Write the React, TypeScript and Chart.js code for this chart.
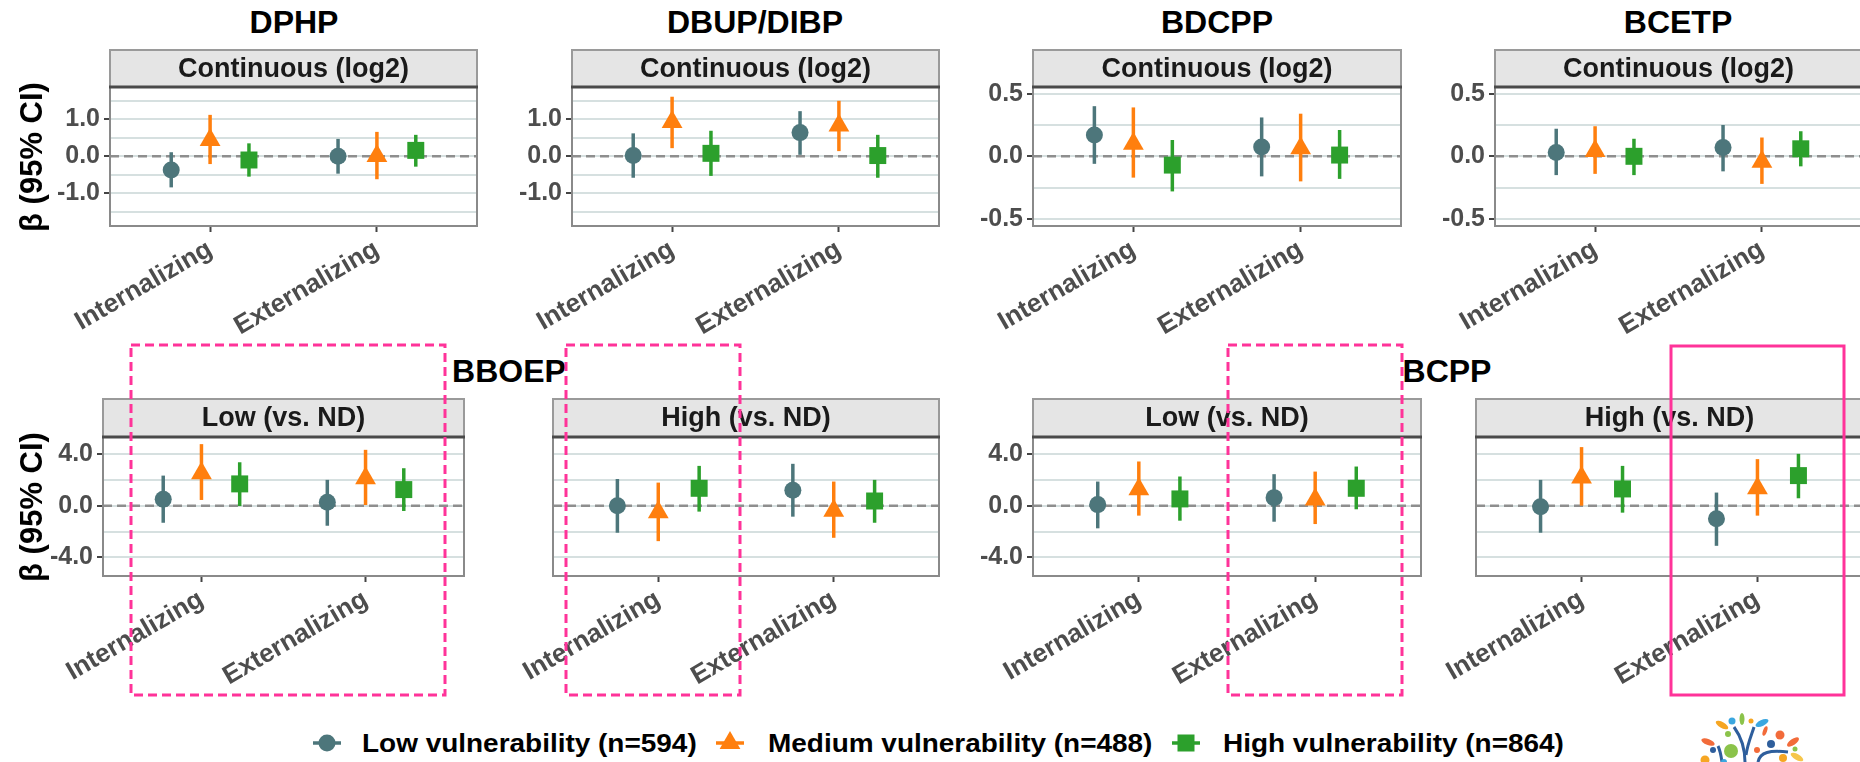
import React, { useEffect, useRef } from 'react';
import { Chart, registerables } from 'chart.js';

Chart.register(...registerables);

const FONT = '"Liberation Sans", Arial, Helvetica, sans-serif';

// ---------- data ----------
const categories = ['Internalizing', 'Externalizing'];
const groupLabels = ['Low vulnerability (n=594)', 'Medium vulnerability (n=488)', 'High vulnerability (n=864)'];
const groupColors = ['#4D767B', '#FF7F0E', '#2CA02C'];
const groupShapes = ['circle', 'triangle', 'rect'];
const chemicalTitles = ['DPHP', 'DBUP/DIBP', 'BDCPP', 'BCETP', 'BBOEP', 'BCPP'];
const exposureStrips = ['Continuous (log2)', 'Low (vs. ND)', 'High (vs. ND)'];

// rows = vulnerability group (Low, Medium, High); cols = Internalizing, Externalizing
const dphpBeta = [[-0.37, 0.0], [0.44, 0.01], [-0.1, 0.16]];
const dphpLo = [[-0.84, -0.47], [-0.21, -0.62], [-0.55, -0.28]];
const dphpHi = [[0.11, 0.47], [1.12, 0.66], [0.35, 0.58]];

const dbupBeta = [[0.02, 0.64], [0.93, 0.83], [0.08, 0.02]];
const dbupLo = [[-0.58, 0.04], [0.22, 0.14], [-0.53, -0.58]];
const dbupHi = [[0.62, 1.22], [1.61, 1.5], [0.69, 0.58]];

const bdcppBeta = [[0.17, 0.074], [0.1, 0.065], [-0.07, 0.01]];
const bdcppLo = [[-0.06, -0.16], [-0.17, -0.2], [-0.28, -0.18]];
const bdcppHi = [[0.4, 0.31], [0.39, 0.34], [0.13, 0.21]];

const bcetpBeta = [[0.03, 0.07], [0.043, -0.043], [0.0, 0.06]];
const bcetpLo = [[-0.15, -0.12], [-0.14, -0.22], [-0.15, -0.08]];
const bcetpHi = [[0.22, 0.25], [0.24, 0.15], [0.14, 0.2]];

const bboepLowBeta = [[0.49, 0.26], [2.51, 2.11], [1.68, 1.24]];
const bboepLowLo = [[-1.32, -1.55], [0.44, 0.05], [-0.03, -0.41]];
const bboepLowHi = [[2.32, 1.99], [4.75, 4.31], [3.35, 2.89]];

const bboepHighBeta = [[0.0, 1.19], [-0.51, -0.39], [1.34, 0.36]];
const bboepHighLo = [[-2.09, -0.85], [-2.74, -2.48], [-0.46, -1.32]];
const bboepHighHi = [[2.06, 3.23], [1.78, 1.86], [3.07, 1.99]];

const bcppLowBeta = [[0.08, 0.62], [1.26, 0.48], [0.52, 1.34]];
const bcppLowLo = [[-1.75, -1.24], [-0.77, -1.42], [-1.16, -0.28]];
const bcppLowHi = [[1.86, 2.43], [3.41, 2.63], [2.25, 3.02]];

const bcppHighBeta = [[-0.08, -1.01], [2.18, 1.35], [1.29, 2.32]];
const bcppHighLo = [[-2.09, -3.1], [0.0, -0.77], [-0.54, 0.57]];
const bcppHighHi = [[1.99, 1.01], [4.52, 3.59], [3.07, 4.0]];

const tickValuesWide = [-1.5, -1, -0.5, 0, 0.5, 1, 1.5];
const tickLabelsWide = [-1, 0, 1];
const tickValuesNarrow = [-0.5, -0.25, 0, 0.25, 0.5];
const tickLabelsNarrow = [-0.5, 0, 0.5];
const tickValuesCat = [-4, -2, 0, 2, 4];
const tickLabelsCat = [-4, 0, 4];

// ---------- layout / style ----------
const groupRadii = [8.5, 12, 12];
const dodgeOffsets = [-0.233, 0, 0.233];
const TOP = { st: 50, pt: 87, pb: 226 };
const BOT = { st: 399, pt: 437, pb: 576 };
const WIDE = { min: -1.884, max: 1.873, ticks: tickValuesWide, labels: tickLabelsWide };
const NARROW = { min: -0.556, max: 0.553, ticks: tickValuesNarrow, labels: tickLabelsNarrow };
const CAT = { min: -5.43, max: 5.3, ticks: tickValuesCat, labels: tickLabelsCat };

const panels = [
  { strip: exposureStrips[0], beta: dphpBeta, lo: dphpLo, hi: dphpHi, y: WIDE, showY: true, row: TOP, l: 110, r: 477 },
  { strip: exposureStrips[0], beta: dbupBeta, lo: dbupLo, hi: dbupHi, y: WIDE, showY: true, row: TOP, l: 572, r: 939 },
  { strip: exposureStrips[0], beta: bdcppBeta, lo: bdcppLo, hi: bdcppHi, y: NARROW, showY: true, row: TOP, l: 1033, r: 1401 },
  { strip: exposureStrips[0], beta: bcetpBeta, lo: bcetpLo, hi: bcetpHi, y: NARROW, showY: true, row: TOP, l: 1495, r: 1862 },
  { strip: exposureStrips[1], beta: bboepLowBeta, lo: bboepLowLo, hi: bboepLowHi, y: CAT, showY: true, row: BOT, l: 103, r: 464 },
  { strip: exposureStrips[2], beta: bboepHighBeta, lo: bboepHighLo, hi: bboepHighHi, y: CAT, showY: false, row: BOT, l: 553, r: 939 },
  { strip: exposureStrips[1], beta: bcppLowBeta, lo: bcppLowLo, hi: bcppLowHi, y: CAT, showY: true, row: BOT, l: 1033, r: 1421 },
  { strip: exposureStrips[2], beta: bcppHighBeta, lo: bcppHighLo, hi: bcppHighHi, y: CAT, showY: false, row: BOT, l: 1476, r: 1863 },
];

const titles = [
  { text: chemicalTitles[0], cx: 294, cy: 22 },
  { text: chemicalTitles[1], cx: 755, cy: 22 },
  { text: chemicalTitles[2], cx: 1217, cy: 22 },
  { text: chemicalTitles[3], cx: 1678, cy: 22 },
  { text: chemicalTitles[4], cx: 509, cy: 371 },
  { text: chemicalTitles[5], cx: 1447, cy: 371 },
];

const decorPlugin = {
  id: 'decor',
  beforeDatasetsDraw(chart: any, _args: any, opts: any) {
    const { ctx, chartArea: a } = chart;
    const x = chart.scales.x;
    const y = chart.scales.y;
    ctx.save();
    const y0 = y.getPixelForValue(0);
    ctx.strokeStyle = '#8E8E8E';
    ctx.lineWidth = 2.5;
    ctx.setLineDash([9, 5]);
    ctx.beginPath();
    ctx.moveTo(a.left, y0);
    ctx.lineTo(a.right, y0);
    ctx.stroke();
    ctx.setLineDash([]);
    ctx.lineWidth = 3.5;
    ctx.lineCap = 'butt';
    chart.data.datasets.forEach((ds: any) => {
      ctx.strokeStyle = ds.backgroundColor;
      ds.data.forEach((d: any) => {
        const px = x.getPixelForValue(d.x);
        ctx.beginPath();
        ctx.moveTo(px, y.getPixelForValue(d.lo));
        ctx.lineTo(px, y.getPixelForValue(d.hi));
        ctx.stroke();
      });
    });
    ctx.restore();
  },
  afterDraw(chart: any, _args: any, opts: any) {
    const { ctx, chartArea: a } = chart;
    ctx.save();
    // panel border
    ctx.strokeStyle = '#8A8A8A';
    ctx.lineWidth = 2;
    ctx.strokeRect(a.left, a.top, a.right - a.left, a.bottom - a.top);
    // strip
    const sh = opts.stripH;
    ctx.fillStyle = '#E5E5E5';
    ctx.fillRect(a.left, a.top - sh, a.right - a.left, sh);
    ctx.strokeStyle = '#9A9A9A';
    ctx.lineWidth = 2;
    ctx.strokeRect(a.left, a.top - sh, a.right - a.left, sh);
    ctx.strokeStyle = '#4A4A4A';
    ctx.lineWidth = 3;
    ctx.beginPath();
    ctx.moveTo(a.left - 1, a.top);
    ctx.lineTo(a.right + 1, a.top);
    ctx.stroke();
    ctx.fillStyle = '#1A1A1A';
    ctx.font = `bold 27px ${FONT}`;
    ctx.textAlign = 'center';
    ctx.textBaseline = 'middle';
    ctx.fillText(opts.strip, (a.left + a.right) / 2, a.top - sh / 2 + 1);
    ctx.restore();
  },
};

const L = 110;
const R = 12;
const TM = 4;
const B = 125;

function Panel({ p }: { p: any }) {
  const ref = useRef<HTMLCanvasElement>(null);
  const canvasLeft = p.l - L;
  const canvasTop = p.row.st - TM;
  const w = L + (p.r - p.l) + R;
  const h = p.row.pb - canvasTop + B;
  useEffect(() => {
    const datasets = groupLabels.map((g, gi) => ({
      label: g,
      data: categories.map((_c, ci) => ({
        x: ci + 1 + dodgeOffsets[gi],
        y: p.beta[gi][ci],
        lo: p.lo[gi][ci],
        hi: p.hi[gi][ci],
      })),
      pointStyle: groupShapes[gi],
      pointRadius: groupRadii[gi],
      backgroundColor: groupColors[gi],
      borderColor: groupColors[gi],
      borderWidth: 0,
      showLine: false,
    }));
    const labelSet = p.y.labels;
    const chart = new Chart(ref.current as HTMLCanvasElement, {
      type: 'scatter',
      data: { datasets } as any,
      options: {
        animation: false,
        responsive: false,
        maintainAspectRatio: false,
        layout: { padding: { top: p.row.pt - canvasTop, right: R, left: 0, bottom: 0 } },
        plugins: {
          legend: { display: false },
          tooltip: { enabled: false },
          title: { display: false },
          decor: { strip: p.strip, stripH: p.row.pt - p.row.st },
        } as any,
        scales: {
          x: {
            type: 'linear',
            min: 0.4,
            max: 2.6,
            afterBuildTicks: (s: any) => {
              s.ticks = categories.map((_c, i) => ({ value: i + 1 }));
            },
            afterFit: (s: any) => {
              s.height = B;
            },
            ticks: {
              autoSkip: false,
              minRotation: 30,
              maxRotation: 30,
              padding: 2,
              color: '#4D4D4D',
              font: { family: FONT, size: 26, weight: 'bold' },
              callback: (v: any) => categories[Math.round(Number(v)) - 1] ?? '',
            },
            grid: {
              drawOnChartArea: false,
              drawTicks: true,
              tickLength: 6,
              tickWidth: 2,
              tickColor: '#444444',
            },
            border: { display: false },
          },
          y: {
            type: 'linear',
            min: p.y.min,
            max: p.y.max,
            afterBuildTicks: (s: any) => {
              s.ticks = p.y.ticks.map((v: number) => ({ value: v }));
            },
            afterFit: (s: any) => {
              s.width = L;
            },
            ticks: {
              display: p.showY,
              autoSkip: false,
              padding: 4,
              color: '#4D4D4D',
              font: { family: FONT, size: 25, weight: 'bold' },
              callback: (v: any) => (labelSet.includes(Number(v)) ? Number(v).toFixed(1) : ''),
            },
            grid: {
              color: '#D6E0E0',
              lineWidth: 2,
              drawTicks: p.showY,
              tickLength: 6,
              tickWidth: 2,
              tickColor: (c: any) => (c.tick && labelSet.includes(c.tick.value) ? '#444444' : 'rgba(0,0,0,0)'),
            },
            border: { display: false },
          },
        },
      } as any,
      plugins: [decorPlugin],
    });
    return () => chart.destroy();
  }, []);
  return (
    <canvas
      ref={ref}
      width={w}
      height={h}
      style={{ position: 'absolute', left: canvasLeft, top: canvasTop, width: w, height: h }}
    />
  );
}

const legendKeys = [
  { cx: 327, textLeft: 362 },
  { cx: 730, textLeft: 768 },
  { cx: 1186, textLeft: 1223 },
];
const LEG_Y = 743;

const highlightBoxes = [
  { x1: 131, y1: 345, x2: 445, y2: 695, dashed: true },
  { x1: 566, y1: 345, x2: 740, y2: 695, dashed: true },
  { x1: 1228, y1: 345, x2: 1402, y2: 695, dashed: true },
  { x1: 1671, y1: 346, x2: 1844, y2: 695, dashed: false },
];

function LegendShape({ i, cx, cy }: { i: number; cx: number; cy: number }) {
  const c = groupColors[i];
  const line = <line x1={cx - 14} y1={cy} x2={cx + 14} y2={cy} stroke={c} strokeWidth={3.5} />;
  if (i === 0) return (<g>{line}<circle cx={cx} cy={cy} r={8.5} fill={c} /></g>);
  if (i === 1) {
    const r = 12;
    const pts = `${cx},${cy - r} ${cx + r * 0.866},${cy + r / 2} ${cx - r * 0.866},${cy + r / 2}`;
    return (<g>{line}<polygon points={pts} fill={c} /></g>);
  }
  return (<g>{line}<rect x={cx - 8.5} y={cy - 8.5} width={17} height={17} fill={c} /></g>);
}

function Logo() {
  const blue = '#2E5E9C';
  const dots = [
    { x: 1732, y: 721, r: 3.5, c: '#3BA7E0' },
    { x: 1751, y: 721, r: 2.5, c: '#F6A623' },
    { x: 1728, y: 734, r: 3, c: '#8BC34A' },
    { x: 1713, y: 750, r: 3, c: '#2E5E9C' },
    { x: 1731, y: 751, r: 7, c: '#8BC34A' },
    { x: 1780, y: 735, r: 4.5, c: '#F26B3A' },
    { x: 1771, y: 744, r: 4, c: '#2E5E9C' },
    { x: 1757, y: 750, r: 3, c: '#F26B3A' },
    { x: 1795, y: 749, r: 2.5, c: '#8BC34A' },
    { x: 1705, y: 760, r: 4.5, c: '#F6A623' },
    { x: 1783, y: 758, r: 4, c: '#F6A623' },
    { x: 1724, y: 762, r: 3, c: '#3BA7E0' },
  ];
  const leaves = [
    { x: 1722, y: 725, rx: 7, ry: 3, a: 30, c: '#F6A623' },
    { x: 1742, y: 719, rx: 6, ry: 2.5, a: 90, c: '#8BC34A' },
    { x: 1762, y: 723, rx: 7, ry: 3, a: -25, c: '#3BA7E0' },
    { x: 1708, y: 742, rx: 7, ry: 3, a: 20, c: '#F26B3A' },
    { x: 1793, y: 742, rx: 7, ry: 3, a: -35, c: '#F26B3A' },
    { x: 1797, y: 757, rx: 7, ry: 3, a: 30, c: '#F6C64A' },
    { x: 1765, y: 731, rx: 5, ry: 2, a: -70, c: '#F26B3A' },
  ];
  return (
    <g>
      <path d="M1745 762 C1745 748 1742 738 1734 727" stroke={blue} strokeWidth={3} fill="none" />
      <path d="M1746 755 C1748 742 1752 734 1754 727" stroke={blue} strokeWidth={3} fill="none" />
      <path d="M1758 762 C1760 752 1770 750 1788 752" stroke={blue} strokeWidth={3} fill="none" />
      <path d="M1722 762 C1721 755 1720 750 1718 746" stroke={blue} strokeWidth={3} fill="none" />
      {dots.map((d, i) => (<circle key={'d' + i} cx={d.x} cy={d.y} r={d.r} fill={d.c} />))}
      {leaves.map((d, i) => (
        <ellipse key={'l' + i} cx={d.x} cy={d.y} rx={d.rx} ry={d.ry} fill={d.c} transform={`rotate(${d.a} ${d.x} ${d.y})`} />
      ))}
    </g>
  );
}

export default function App() {
  return (
    <div
      style={{
        position: 'absolute',
        left: 0,
        top: 0,
        width: 1860,
        height: 762,
        overflow: 'hidden',
        background: '#FFFFFF',
        fontFamily: FONT,
      }}
    >
      {panels.map((p, i) => (
        <Panel key={i} p={p} />
      ))}
      {titles.map((t, i) => (
        <div
          key={i}
          style={{
            position: 'absolute',
            left: t.cx - 200,
            width: 400,
            top: t.cy - 16,
            height: 32,
            lineHeight: '32px',
            fontSize: 32,
            fontWeight: 'bold',
            textAlign: 'center',
            color: '#000000',
            whiteSpace: 'nowrap',
          }}
        >
          {t.text}
        </div>
      ))}
      {[157, 507].map((cy, i) => (
        <div
          key={'yt' + i}
          style={{
            position: 'absolute',
            left: 32 - 120,
            top: cy - 16,
            width: 240,
            height: 32,
            lineHeight: '32px',
            fontSize: 31,
            fontWeight: 'bold',
            textAlign: 'center',
            color: '#000000',
            transform: 'rotate(-90deg)',
            whiteSpace: 'nowrap',
          }}
        >
          β (95% CI)
        </div>
      ))}
      {legendKeys.map((k, i) => (
        <div
          key={'lg' + i}
          style={{
            position: 'absolute',
            left: k.textLeft,
            top: LEG_Y - 14,
            height: 28,
            lineHeight: '28px',
            fontSize: 26,
            fontWeight: 'bold',
            color: '#000000',
            whiteSpace: 'nowrap',
            transform: 'scaleX(1.075)',
            transformOrigin: 'left center',
          }}
        >
          {groupLabels[i]}
        </div>
      ))}
      <svg
        width={1860}
        height={762}
        style={{ position: 'absolute', left: 0, top: 0, pointerEvents: 'none' }}
      >
        {legendKeys.map((k, i) => (
          <LegendShape key={i} i={i} cx={k.cx} cy={LEG_Y} />
        ))}
        <Logo />
        {highlightBoxes.map((b, i) => (
          <rect
            key={'hb' + i}
            x={b.x1}
            y={b.y1}
            width={b.x2 - b.x1}
            height={b.y2 - b.y1}
            fill="none"
            stroke="#FF3399"
            strokeWidth={3}
            strokeDasharray={b.dashed ? '9 5' : undefined}
          />
        ))}
      </svg>
    </div>
  );
}
